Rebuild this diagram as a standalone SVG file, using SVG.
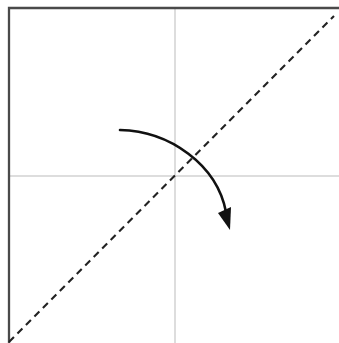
<svg xmlns="http://www.w3.org/2000/svg" width="339" height="343" viewBox="0 0 339 343">
<style>
.crease{stroke:#d2d2d2;stroke-width:1.5;fill:none}
.edge{stroke:#4a4a4a;stroke-width:2.3;fill:none}
.valley{stroke:#222;stroke-width:2.1;stroke-dasharray:7 5;fill:none}
.arrow{stroke:#111;stroke-width:2.6;fill:none;stroke-linecap:round}
</style>
<rect width="339" height="343" fill="#fff"/>
<g id="paper">
<line class="crease" x1="175" y1="8" x2="175" y2="343"/>
<line class="crease" x1="9" y1="176" x2="339" y2="176"/>
<polyline class="edge" points="9,343 9,8 339,8"/>
</g>
<g id="fold-line">
<line class="valley" x1="9" y1="342" x2="334" y2="16"/>
</g>
<g id="connectors">
<path class="arrow" d="M120,130 C170,131 217,165 226,212"/>
<polygon points="218,213 231,207 230,230" fill="#111"/>
</g>
</svg>
